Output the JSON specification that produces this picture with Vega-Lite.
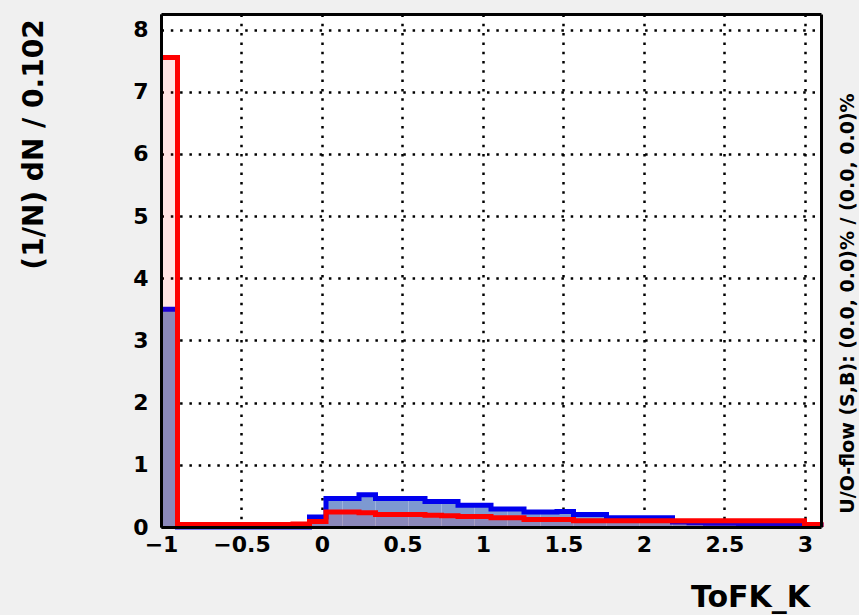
{
  "$schema": "https://vega.github.io/schema/vega-lite/v6.json",
  "width": 660,
  "height": 513,
  "autosize": "none",
  "padding": {"left": 161, "top": 14, "right": 38, "bottom": 88},
  "background": "#f0f0f0",
  "config": {
    "view": {"fill": "white", "stroke": null},
    "font": "DejaVu Sans",
    "axis": {
      "domainColor": "black", "domainWidth": 3,
      "labelFont": "DejaVu Sans", "labelFontWeight": "bold", "labelColor": "black", "labelFontSize": 22,
      "titleFont": "DejaVu Sans", "titleFontWeight": "bold", "titleColor": "black",
      "labelFlush": false, "labelOverlap": false
    }
  },
  "datasets": {
    "h": [
      {"o":1,"lo":-1,"hi":-0.8975,"s":3.5,"b":7.55},
      {"o":2,"lo":-0.8975,"hi":-0.795,"s":0,"b":0.04},
      {"o":3,"lo":-0.795,"hi":-0.6925,"s":0,"b":0.04},
      {"o":4,"lo":-0.6925,"hi":-0.59,"s":0,"b":0.04},
      {"o":5,"lo":-0.59,"hi":-0.4875,"s":0,"b":0.04},
      {"o":6,"lo":-0.4875,"hi":-0.385,"s":0,"b":0.04},
      {"o":7,"lo":-0.385,"hi":-0.2825,"s":0,"b":0.04},
      {"o":8,"lo":-0.2825,"hi":-0.18,"s":0,"b":0.04},
      {"o":9,"lo":-0.18,"hi":-0.0775,"s":0,"b":0.05},
      {"o":10,"lo":-0.0775,"hi":0.025,"s":0.16,"b":0.09},
      {"o":11,"lo":0.025,"hi":0.1275,"s":0.46,"b":0.24},
      {"o":12,"lo":0.1275,"hi":0.23,"s":0.46,"b":0.24},
      {"o":13,"lo":0.23,"hi":0.3325,"s":0.52,"b":0.23},
      {"o":14,"lo":0.3325,"hi":0.435,"s":0.46,"b":0.2},
      {"o":15,"lo":0.435,"hi":0.5375,"s":0.46,"b":0.2},
      {"o":16,"lo":0.5375,"hi":0.64,"s":0.46,"b":0.2},
      {"o":17,"lo":0.64,"hi":0.7425,"s":0.41,"b":0.19},
      {"o":18,"lo":0.7425,"hi":0.845,"s":0.41,"b":0.18},
      {"o":19,"lo":0.845,"hi":0.9475,"s":0.35,"b":0.17},
      {"o":20,"lo":0.9475,"hi":1.05,"s":0.35,"b":0.17},
      {"o":21,"lo":1.05,"hi":1.1525,"s":0.29,"b":0.15},
      {"o":22,"lo":1.1525,"hi":1.255,"s":0.29,"b":0.15},
      {"o":23,"lo":1.255,"hi":1.3575,"s":0.24,"b":0.12},
      {"o":24,"lo":1.3575,"hi":1.46,"s":0.24,"b":0.12},
      {"o":25,"lo":1.46,"hi":1.5625,"s":0.25,"b":0.12},
      {"o":26,"lo":1.5625,"hi":1.665,"s":0.2,"b":0.1},
      {"o":27,"lo":1.665,"hi":1.7675,"s":0.2,"b":0.1},
      {"o":28,"lo":1.7675,"hi":1.87,"s":0.15,"b":0.1},
      {"o":29,"lo":1.87,"hi":1.9725,"s":0.15,"b":0.1},
      {"o":30,"lo":1.9725,"hi":2.075,"s":0.15,"b":0.1},
      {"o":31,"lo":2.075,"hi":2.1775,"s":0.15,"b":0.1},
      {"o":32,"lo":2.1775,"hi":2.28,"s":0.08,"b":0.1},
      {"o":33,"lo":2.28,"hi":2.3825,"s":0.07,"b":0.1},
      {"o":34,"lo":2.3825,"hi":2.485,"s":0.06,"b":0.1},
      {"o":35,"lo":2.485,"hi":2.5875,"s":0.06,"b":0.1},
      {"o":36,"lo":2.5875,"hi":2.69,"s":0.05,"b":0.1},
      {"o":37,"lo":2.69,"hi":2.7925,"s":0.05,"b":0.1},
      {"o":38,"lo":2.7925,"hi":2.895,"s":0.04,"b":0.1},
      {"o":39,"lo":2.895,"hi":2.9975,"s":0.04,"b":0.1},
      {"o":40,"lo":2.9975,"hi":3.1,"s":0.03,"b":0.04},
      {"o":41,"lo":3.1,"hi":3.1,"s":0,"b":0}
    ]
  },
  "data": {"name": "h"},
  "resolve": {"axis": {"x": "independent", "y": "independent"}},
  "layer": [
    {
      "mark": {"type": "rect", "opacity": 0},
      "encoding": {
        "x": {"field": "lo", "type": "quantitative",
          "scale": {"domain": [-1, 3.1], "nice": false, "zero": false},
          "axis": {"orient": "bottom", "values": [-1, -0.5, 0, 0.5, 1, 1.5, 2, 2.5, 3], "format": "~g",
            "ticks": false, "domain": false, "labelPadding": 7, "zindex": 0,
            "grid": true, "gridColor": "black", "gridWidth": 2.5, "gridDash": [2.5, 6.8],
            "title": "ToFK_K", "titleFontSize": 30, "titleX": 589, "titleY": 79, "titleAlign": "center", "titleBaseline": "alphabetic", "titleAngle": 0}},
        "x2": {"field": "hi"},
        "y": {"field": "s", "type": "quantitative",
          "scale": {"domain": [0, 8.25], "nice": false},
          "axis": {"orient": "left", "values": [0, 1, 2, 3, 4, 5, 6, 7, 8], "format": "d",
            "ticks": false, "domain": false, "labelPadding": 13, "zindex": 0,
            "grid": true, "gridColor": "black", "gridWidth": 2.5, "gridDash": [2.5, 6.8],
            "title": "(1/N) dN / 0.102", "titleFontSize": 28, "titleX": -127, "titleY": 130, "titleAngle": 270, "titleAlign": "center", "titleBaseline": "middle"}},
        "y2": {"datum": 0}
      }
    },
    {
      "mark": {"type": "rect", "fill": "#7d99d1", "strokeWidth": 0},
      "encoding": {
        "x": {"field": "lo", "type": "quantitative",
          "scale": {"domain": [-1, 3.1], "nice": false, "zero": false},
          "axis": {"orient": "bottom", "values": [-1, -0.5, 0, 0.5, 1, 1.5, 2, 2.5, 3],
            "ticks": false, "labels": false, "grid": false, "title": null, "zindex": 1}},
        "x2": {"field": "hi"},
        "y": {"field": "s", "type": "quantitative",
          "scale": {"domain": [0, 8.25], "nice": false},
          "axis": {"orient": "left", "values": [0, 1, 2, 3, 4, 5, 6, 7, 8],
            "ticks": false, "labels": false, "grid": false, "title": null, "zindex": 1}},
        "y2": {"datum": 0}
      }
    },
    {
      "mark": {"type": "line", "interpolate": "step-after", "stroke": "#0000ee", "strokeWidth": 5, "strokeJoin": "miter"},
      "encoding": {
        "x": {"field": "lo", "type": "quantitative", "axis": null,
          "scale": {"domain": [-1, 3.1], "nice": false, "zero": false}},
        "y": {"field": "s", "type": "quantitative", "axis": null,
          "scale": {"domain": [0, 8.25], "nice": false}},
        "order": {"field": "o", "type": "quantitative"}
      }
    },
    {
      "mark": {"type": "rect", "fill": "#ff0000", "fillOpacity": 0.11, "strokeWidth": 0},
      "encoding": {
        "x": {"field": "lo", "type": "quantitative",
          "scale": {"domain": [-1, 3.1], "nice": false, "zero": false},
          "axis": {"orient": "top", "values": [-1, -0.5, 0, 0.5, 1, 1.5, 2, 2.5, 3],
            "ticks": false, "labels": false, "grid": false, "title": null, "zindex": 1}},
        "x2": {"field": "hi"},
        "y": {"field": "b", "type": "quantitative",
          "scale": {"domain": [0, 8.25], "nice": false},
          "axis": {"orient": "right", "values": [0, 1, 2, 3, 4, 5, 6, 7, 8],
            "ticks": false, "labels": false, "grid": false, "zindex": 1,
            "title": "U/O-flow (S,B): (0.0, 0.0)% / (0.0, 0.0)%", "titleFontSize": 19, "titleX": 26, "titleY": 289, "titleAngle": 270, "titleAlign": "center", "titleBaseline": "middle"}},
        "y2": {"datum": 0}
      }
    },
    {
      "mark": {"type": "line", "interpolate": "step-after", "stroke": "#ff0000", "strokeWidth": 5, "strokeJoin": "miter"},
      "encoding": {
        "x": {"field": "lo", "type": "quantitative", "axis": null,
          "scale": {"domain": [-1, 3.1], "nice": false, "zero": false}},
        "y": {"field": "b", "type": "quantitative", "axis": null,
          "scale": {"domain": [0, 8.25], "nice": false}},
        "order": {"field": "o", "type": "quantitative"}
      }
    }
  ]
}
